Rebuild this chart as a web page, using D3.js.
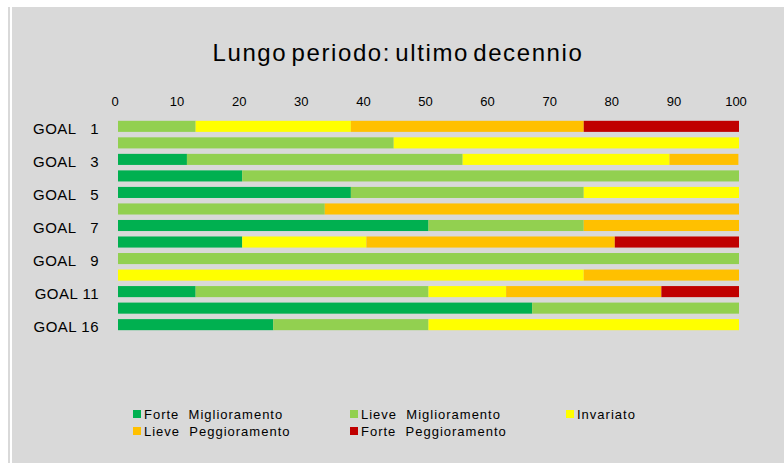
<!DOCTYPE html>
<html>
<head>
<meta charset="utf-8">
<script src="https://cdn.jsdelivr.net/npm/d3@7"></script>
<style>
  body { margin: 0; background: #fff; }
  text { font-family: "Liberation Sans", Arial, sans-serif; fill: #000; }
</style>
</head>
<body>
<svg id="chart"></svg>
<script>
var W = 784, H = 463;

// dati
var goals = ["GOAL   1", "GOAL   2", "GOAL   3", "GOAL   4", "GOAL   5", "GOAL   6",
             "GOAL   7", "GOAL   8", "GOAL   9", "GOAL 10", "GOAL 11", "GOAL 12", "GOAL 16"];
var shownGoals = ["GOAL   1", "GOAL   3", "GOAL   5", "GOAL   7", "GOAL   9", "GOAL 11", "GOAL 16"];
var classes = ["Forte  Miglioramento", "Lieve  Miglioramento", "Invariato",
               "Lieve  Peggioramento", "Forte  Peggioramento"];
var colors = ["#00b050", "#92d050", "#ffff00", "#ffc000", "#c00000"];
var forteMigl  = [0,    0,    11.1, 20, 37.5, 0,    50, 20, 0,   0,  12.5, 66.7, 25];
var lieveMigl  = [12.5, 44.4, 44.4, 80, 37.5, 33.3, 25, 0,  100, 0,  37.5, 33.3, 25];
var invariato  = [25,   55.6, 33.3, 0,  25,   0,    0,  20, 0,   75, 12.5, 0,    50];
var lievePegg  = [37.5, 0,    11.1, 0,  0,    66.7, 25, 40, 0,   25, 25,   0,    0];
var fortePegg  = [25,   0,    0,    0,  0,    0,    0,  20, 0,   0,  12.5, 0,    0];
var xTicks = [0, 10, 20, 30, 40, 50, 60, 70, 80, 90, 100];

var series = [forteMigl, lieveMigl, invariato, lievePegg, fortePegg];
var rows = goals.map(function(g, i) {
    var r = { goal: g };
    classes.forEach(function(c, k) { r[c] = series[k][i]; });
    return r;
});
var stacked = d3.stack().keys(classes)(rows);

var svg = d3.select("#chart").attr("width", W).attr("height", H);

// sfondo
svg.append("rect").attr("x", 0).attr("y", 0).attr("width", W).attr("height", H).attr("fill", "#fff");
svg.append("rect").attr("x", 8).attr("y", 7).attr("width", 2).attr("height", H - 7).attr("fill", "#d9d9d9");
svg.append("rect").attr("x", 12).attr("y", 7).attr("width", W - 12).attr("height", H - 7).attr("fill", "#d9d9d9");

// titolo
svg.append("text")
    .attr("x", 398).attr("y", 61)
    .attr("text-anchor", "middle")
    .attr("font-size", 24)
    .attr("letter-spacing", 1.6)
    .attr("word-spacing", -4)
    .text("Lungo periodo: ultimo decennio");

var x = d3.scaleLinear().domain([0, 100]).range([118, 739]);
var y = d3.scaleBand().domain(goals).range([118, 333]).paddingInner(0.33).paddingOuter(0.17);

// asse x in alto
var xAxis = svg.append("g")
    .attr("transform", "translate(0,106)")
    .call(d3.axisTop(x).tickValues(xTicks).tickSize(0).tickPadding(0));
xAxis.select(".domain").remove();
xAxis.selectAll("text")
    .attr("font-family", "Liberation Sans, Arial, sans-serif")
    .attr("font-size", 13)
    .attr("fill", "#000")
    .attr("dx", -3.5);

// asse y
var yAxis = svg.append("g")
    .attr("transform", "translate(99,0)")
    .call(d3.axisLeft(y).tickSize(0).tickPadding(0)
        .tickFormat(function(d) { return shownGoals.indexOf(d) >= 0 ? d : ""; }));
yAxis.select(".domain").remove();
yAxis.selectAll("text")
    .attr("font-family", "Liberation Sans, Arial, sans-serif")
    .attr("font-size", 15)
    .attr("letter-spacing", 0.5)
    .attr("fill", "#000")
    .attr("dy", "0.5em")
    .style("white-space", "pre");

// barre
svg.selectAll("g.serie")
    .data(stacked)
    .enter()
    .append("g")
    .attr("class", "serie")
    .attr("fill", function(d, i) { return colors[i]; })
    .selectAll("rect")
    .data(function(d) { return d; })
    .enter()
    .append("rect")
    .filter(function(d) { return d[1] - d[0] > 0; })
    .attr("x", function(d) { return x(d[0]); })
    .attr("y", function(d) { return y(d.data.goal); })
    .attr("width", function(d) { return x(d[1]) - x(d[0]); })
    .attr("height", y.bandwidth());

// legenda
var legX = [133, 350, 566];
var leg = svg.selectAll("g.leg")
    .data(classes)
    .enter()
    .append("g")
    .attr("class", "leg")
    .attr("transform", function(d, i) {
        return "translate(" + legX[i % 3] + "," + (410 + Math.floor(i / 3) * 17) + ")";
    });
leg.append("rect")
    .attr("width", 8).attr("height", 8)
    .attr("fill", function(d, i) { return colors[i]; });
leg.append("text")
    .attr("x", 11).attr("y", 9)
    .attr("font-size", 13)
    .attr("letter-spacing", 1)
    .style("white-space", "pre")
    .text(function(d) { return d; });
</script>
</body>
</html>
